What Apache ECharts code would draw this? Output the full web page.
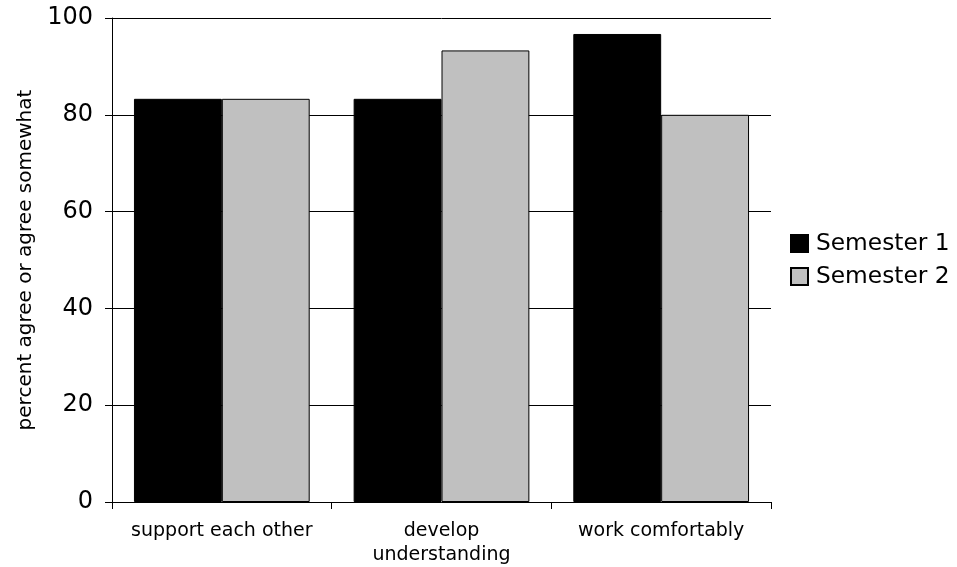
<!DOCTYPE html>
<html><head><meta charset="utf-8">
<script src="https://cdn.jsdelivr.net/npm/echarts@6/dist/echarts.min.js"></script>
<style>html,body{margin:0;padding:0;background:#fff}#c{width:957px;height:567px}</style>
</head><body><div id="c"></div>
<script>
const categories = ['support each other', 'develop\nunderstanding', 'work comfortably'];
const semester1 = [83.3, 83.3, 96.7];
const semester2 = [83.3, 93.3, 80.0];
const yTicks = [0, 20, 40, 60, 80, 100];
const seriesNames = ['Semester 1', 'Semester 2'];

const chart = echarts.init(document.getElementById('c'), null, {renderer: 'canvas'});
const font = 'DejaVu Sans, Verdana, sans-serif';
chart.setOption({
  animation: false,
  backgroundColor: '#fff',
  grid: {left: 112, right: 186, top: 18, bottom: 65, containLabel: false, outerBoundsMode: 'none'},
  legend: {
    orient: 'vertical', left: 785, top: 227, itemWidth: 17, itemHeight: 17, itemGap: 10,
    icon: 'rect', padding: 5,
    textStyle: {fontFamily: font, fontSize: 23.3, color: '#000', padding: [0, 0, 0, 3]},
    data: seriesNames
  },
  xAxis: {
    type: 'category', data: categories,
    axisLine: {lineStyle: {color: '#000', width: 1}},
    axisTick: {show: true, length: 7, interval: 0, lineStyle: {color: '#000'}, alignWithLabel: false},
    axisLabel: {fontFamily: font, fontSize: 19, color: '#000', margin: 17, lineHeight: 24, interval: 0, hideOverlap: false}
  },
  yAxis: {
    type: 'value', min: yTicks[0], max: yTicks[yTicks.length - 1], interval: 20,
    name: 'percent agree or agree somewhat', nameLocation: 'middle', nameGap: 72,
    nameTextStyle: {fontFamily: font, fontSize: 20, color: '#000'},
    axisLine: {show: true, lineStyle: {color: '#000', width: 1}},
    axisTick: {show: true, length: 7, lineStyle: {color: '#000'}},
    axisLabel: {fontFamily: font, fontSize: 24, color: '#000', margin: 19},
    splitLine: {show: true, lineStyle: {color: '#000', width: 1}}
  },
  series: [
    {name: seriesNames[0], type: 'bar', data: semester1, barGap: '0%', barCategoryGap: '20%',
     itemStyle: {color: '#000', borderColor: '#000', borderWidth: 1}},
    {name: seriesNames[1], type: 'bar', data: semester2, barGap: '0%', barCategoryGap: '20%',
     itemStyle: {color: '#c0c0c0', borderColor: '#000', borderWidth: 1}}
  ]
});
</script></body></html>
